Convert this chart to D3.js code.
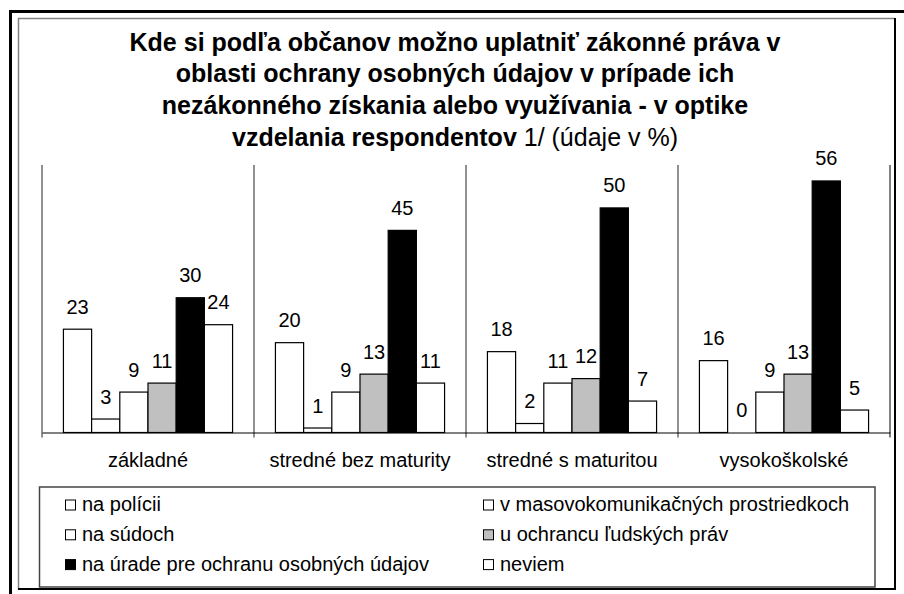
<!DOCTYPE html>
<html>
<head>
<meta charset="utf-8">
<script src="https://cdn.jsdelivr.net/npm/d3@7"></script>
<style>
  body { margin: 0; background: #fff; }
  svg { display: block; font-family: "Liberation Sans", Arial, sans-serif; }
</style>
</head>
<body>
<div id="chart"></div>
<script>
var categories = ["základné", "stredné bez maturity", "stredné s maturitou", "vysokoškolské"];
var seriesNames = ["na polícii", "v masovokomunikačných prostriedkoch", "na súdoch",
    "u ochrancu ľudských práv", "na úrade pre ochranu osobných údajov", "neviem"];
var policia = [23, 20, 18, 16];
var masovo = [3, 1, 2, 0];
var sudy = [9, 9, 11, 9];
var ochranca = [11, 13, 12, 13];
var urad = [30, 45, 50, 56];
var neviem = [24, 11, 7, 5];
var seriesColors = ["#ffffff", "#ffffff", "#ffffff", "#c0c0c0", "#000000", "#ffffff"];
var titleLines = [
    "Kde si podľa občanov možno uplatniť zákonné práva v",
    "oblasti ochrany osobných údajov v prípade ich",
    "nezákonného získania alebo využívania - v optike"
];
var titleLastBold = "vzdelania respondentov";
var titleLastNormal = " 1/ (údaje v %)";

var seriesValues = [policia, masovo, sudy, ochranca, urad, neviem];

var width = 904, height = 594;
var plotLeft = 42, plotRight = 890, plotTop = 165, baseline = 432.5;

var svg = d3.select("#chart").append("svg")
    .attr("width", width)
    .attr("height", height);

// outer frame
svg.append("line").attr("x1", 9).attr("x2", 904).attr("y1", 11.5).attr("y2", 11.5)
    .attr("stroke", "#000").attr("stroke-width", 3);
svg.append("line").attr("x1", 10.5).attr("x2", 10.5).attr("y1", 10).attr("y2", 594)
    .attr("stroke", "#000").attr("stroke-width", 3);
// inner frame
svg.append("path").attr("d", "M18.5,589 L18.5,18.5 L895,18.5")
    .attr("fill", "none").attr("stroke", "#808080").attr("stroke-width", 1.5);
svg.append("path").attr("d", "M895,18 L895,589 L18,589")
    .attr("fill", "none").attr("stroke", "#000").attr("stroke-width", 2);

// title
var title = svg.append("text")
    .attr("text-anchor", "middle")
    .attr("font-size", 25)
    .attr("font-weight", "bold");
titleLines.forEach(function(t, i) {
    title.append("tspan").attr("x", 455).attr("y", 50.5 + i * 31.8).text(t);
});
var last = title.append("tspan").attr("x", 455).attr("y", 50.5 + 3 * 31.8);
last.append("tspan").text(titleLastBold);
last.append("tspan").attr("font-weight", "normal").text(titleLastNormal);

var x0 = d3.scaleBand().domain(categories).range([plotLeft, plotRight]);
var x1 = d3.scaleBand().domain(seriesNames).range([0, x0.bandwidth()]).paddingOuter(0.76);
var y = d3.scaleLinear().domain([0, 60]).range([baseline, 163]);

// dividers (category boundaries)
var bounds = categories.map(function(c) { return x0(c); });
svg.append("g").selectAll("line")
    .data(bounds)
    .enter()
    .append("line")
    .attr("x1", function(d) { return d; })
    .attr("x2", function(d) { return d; })
    .attr("y1", plotTop)
    .attr("y2", baseline + 5)
    .attr("stroke", "#222")
    .attr("stroke-width", 1);
svg.append("line")
    .attr("x1", plotRight).attr("x2", plotRight)
    .attr("y1", plotTop).attr("y2", baseline + 5)
    .attr("stroke", "#808080").attr("stroke-width", 2);

// bars
var groups = svg.append("g").selectAll("g")
    .data(categories)
    .enter()
    .append("g")
    .attr("transform", function(d) { return "translate(" + x0(d) + ",0)"; });

groups.selectAll("rect")
    .data(function(d, i) {
        return seriesNames.map(function(s, j) { return {s: s, j: j, v: seriesValues[j][i]}; });
    })
    .enter()
    .append("rect")
    .attr("x", function(d) { return x1(d.s); })
    .attr("y", function(d) { return y(d.v); })
    .attr("width", x1.bandwidth())
    .attr("height", function(d) { return baseline - y(d.v); })
    .attr("fill", function(d) { return seriesColors[d.j]; })
    .attr("stroke", function(d) { return d.v > 0 ? "#000" : "none"; })
    .attr("stroke-width", 1.2);

groups.selectAll("text")
    .data(function(d, i) {
        return seriesNames.map(function(s, j) { return {s: s, j: j, v: seriesValues[j][i]}; });
    })
    .enter()
    .append("text")
    .attr("x", function(d) { return x1(d.s) + x1.bandwidth() / 2; })
    .attr("y", function(d) { return y(d.v) - 15.5; })
    .attr("text-anchor", "middle")
    .attr("font-size", 20)
    .text(function(d) { return d.v; });

// x axis
var xAxis = d3.axisBottom(x0).tickSize(0).tickPadding(20);
var axisG = svg.append("g")
    .attr("transform", "translate(0," + baseline + ")")
    .call(xAxis);
axisG.select(".domain").attr("stroke", "#000").attr("stroke-width", 1);
axisG.selectAll("text")
    .attr("font-size", 20)
    .attr("font-family", "Liberation Sans, Arial, sans-serif")
    .attr("fill", "#000");

// legend
svg.append("rect")
    .attr("x", 39.5).attr("y", 487)
    .attr("width", 835.5).attr("height", 100)
    .attr("fill", "#fff")
    .attr("stroke", "#444").attr("stroke-width", 1.5);

var legend = svg.append("g").selectAll("g")
    .data(seriesNames)
    .enter()
    .append("g")
    .attr("transform", function(d, i) {
        var col = i % 2, row = Math.floor(i / 2);
        return "translate(" + (col === 0 ? 65 : 483) + "," + (511 + row * 29.8) + ")";
    });
legend.append("rect")
    .attr("x", 0.5).attr("y", -11)
    .attr("width", 10).attr("height", 10)
    .attr("fill", function(d, i) { return seriesColors[i]; })
    .attr("stroke", "#000").attr("stroke-width", 1);
legend.append("text")
    .attr("x", 17)
    .attr("y", 0)
    .attr("font-size", 20)
    .text(function(d) { return d; });
</script>
</body>
</html>
